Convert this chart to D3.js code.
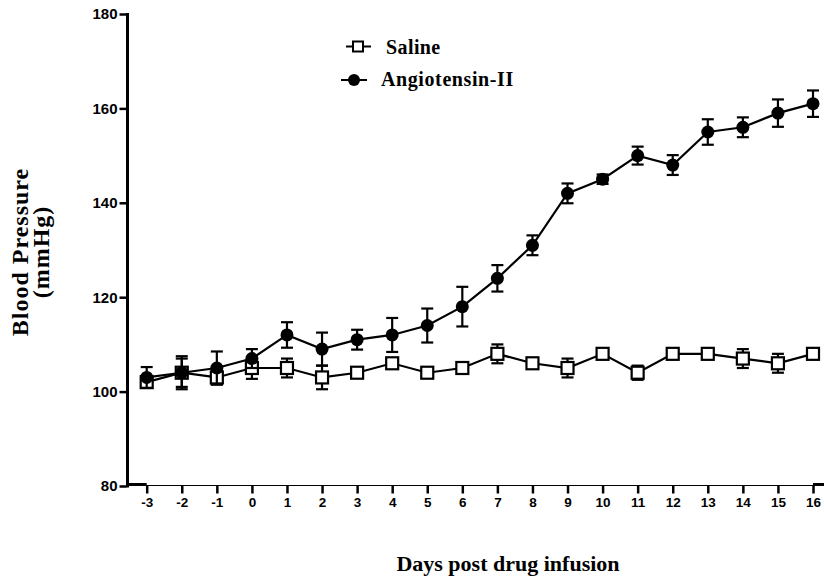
<!DOCTYPE html>
<html>
<head>
<meta charset="utf-8">
<script src="https://cdn.jsdelivr.net/npm/d3@7"></script>
<style>
  body { margin: 0; background: #fff; }
  svg { display: block; }
</style>
</head>
<body>
<div id="chart"></div>
<script>
// 1: DATA
const days = [-3, -2, -1, 0, 1, 2, 3, 4, 5, 6, 7, 8, 9, 10, 11, 12, 13, 14, 15, 16];
const saline = [102, 104, 103, 105, 105, 103, 104, 106, 104, 105, 108, 106, 105, 108, 104, 108, 108, 107, 106, 108];
const salineErr = [1, 3, 1.5, 2.3, 2, 2.5, 1, 1, 1, 1, 2, 1, 2, 1, 1.5, 0.8, 0.8, 2, 2, 0.8];
const angII = [103, 104, 105, 107, 112, 109, 111, 112, 114, 118, 124, 131, 142, 145, 150, 148, 155, 156, 159, 161];
const angIIErr = [2.2, 3.5, 3.5, 2, 2.7, 3.5, 2.1, 3.6, 3.6, 4.2, 2.8, 2.1, 2.1, 1, 1.9, 2.1, 2.7, 2.1, 2.9, 2.8];
const yTicks = [80, 100, 120, 140, 160, 180];

// 2: SETUP
const W = 824, H = 585;
const svg = d3.select("#chart").append("svg")
    .attr("width", W)
    .attr("height", H);

const x = d3.scaleLinear().domain([-3, 16]).range([146.7, 813]);
const y = d3.scaleLinear().domain([80, 180]).range([486, 14]);
const axisX = 127.5;

// 3: AXES
// y axis
svg.append("line")
    .attr("x1", axisX).attr("x2", axisX)
    .attr("y1", y(180) - 1).attr("y2", y(80) + 1.5)
    .attr("stroke", "#000").attr("stroke-width", 3);

svg.append("g")
    .attr("transform", `translate(${axisX - 1},0)`)
    .call(d3.axisLeft(y).tickValues(yTicks).tickSize(7).tickPadding(2).tickFormat(d => String(d)))
    .call(g => g.select(".domain").remove())
    .call(g => g.selectAll(".tick line").attr("stroke", "#000").attr("stroke-width", 2.5))
    .call(g => g.selectAll(".tick text")
        .attr("fill", "#000")
        .style("font-family", "'Liberation Sans', Arial, sans-serif")
        .style("font-weight", "bold")
        .style("font-size", "15px"));

// x axis: thin middle, thick ends
const axisY = y(80) - 0.5;
svg.append("line")
    .attr("x1", axisX).attr("x2", W)
    .attr("y1", axisY).attr("y2", axisY)
    .attr("stroke", "#000").attr("stroke-width", 1.2);
svg.append("line")
    .attr("x1", axisX).attr("x2", x(-3))
    .attr("y1", axisY - 1).attr("y2", axisY - 1)
    .attr("stroke", "#000").attr("stroke-width", 3);
svg.append("line")
    .attr("x1", x(16)).attr("x2", W)
    .attr("y1", axisY - 1).attr("y2", axisY - 1)
    .attr("stroke", "#000").attr("stroke-width", 3);

svg.append("g")
    .attr("transform", `translate(0,${axisY})`)
    .call(d3.axisBottom(x).tickValues(days).tickSize(8).tickPadding(4).tickFormat(d => String(d)))
    .call(g => g.select(".domain").remove())
    .call(g => g.selectAll(".tick line").attr("stroke", "#000").attr("stroke-width", 2.5))
    .call(g => g.selectAll(".tick text")
        .attr("fill", "#000")
        .style("font-family", "'Liberation Sans', Arial, sans-serif")
        .style("font-weight", "bold")
        .style("font-size", "13.5px"));

// 4: SERIES
const line = d3.line()
    .x(d => x(d.day))
    .y(d => y(d.v));

function drawSeries(vals, errs, marker) {
    const data = days.map((d, i) => ({ day: d, v: vals[i], e: errs[i] }));
    const g = svg.append("g");
    const cap = 6;

    // error bars
    const eb = g.selectAll(".eb").data(data).join("g")
        .attr("stroke", "#000").attr("stroke-width", 2.2);
    eb.append("line")
        .attr("x1", d => x(d.day)).attr("x2", d => x(d.day))
        .attr("y1", d => y(d.v - d.e)).attr("y2", d => y(d.v + d.e));
    eb.append("line")
        .attr("x1", d => x(d.day) - cap).attr("x2", d => x(d.day) + cap)
        .attr("y1", d => y(d.v + d.e)).attr("y2", d => y(d.v + d.e));
    eb.append("line")
        .attr("x1", d => x(d.day) - cap).attr("x2", d => x(d.day) + cap)
        .attr("y1", d => y(d.v - d.e)).attr("y2", d => y(d.v - d.e));

    g.append("path")
        .datum(data)
        .attr("fill", "none")
        .attr("stroke", "#000")
        .attr("stroke-width", 2.2)
        .attr("d", line);

    if (marker === "square") {
        g.selectAll(".m").data(data).join("rect")
            .attr("x", d => x(d.day) - 6)
            .attr("y", d => y(d.v) - 6)
            .attr("width", 12).attr("height", 12)
            .attr("fill", "#fff")
            .attr("stroke", "#000")
            .attr("stroke-width", 2.2);
    } else {
        g.selectAll(".m").data(data).join("circle")
            .attr("cx", d => x(d.day))
            .attr("cy", d => y(d.v))
            .attr("r", 6.5)
            .attr("fill", "#000");
    }
}

drawSeries(saline, salineErr, "square");
drawSeries(angII, angIIErr, "circle");

// 5: LEGEND
const serif = "'Liberation Serif', 'Times New Roman', serif";
const leg1 = svg.append("g").attr("transform", "translate(358,46.5)");
leg1.append("line").attr("x1", -12).attr("x2", 13).attr("stroke", "#000").attr("stroke-width", 2);
leg1.append("rect").attr("x", -5).attr("y", -5).attr("width", 10).attr("height", 10)
    .attr("fill", "#fff").attr("stroke", "#000").attr("stroke-width", 2);
leg1.append("text").attr("x", 28).attr("y", 7)
    .style("font-family", serif).style("font-weight", "bold").style("font-size", "20px")
    .style("letter-spacing", "0.4px")
    .text("Saline");

const leg2 = svg.append("g").attr("transform", "translate(354,80)");
leg2.append("line").attr("x1", -13).attr("x2", 13).attr("stroke", "#000").attr("stroke-width", 2);
leg2.append("circle").attr("r", 6).attr("fill", "#000");
leg2.append("text").attr("x", 27).attr("y", 6)
    .style("font-family", serif).style("font-weight", "bold").style("font-size", "20px")
    .style("letter-spacing", "0.6px")
    .text("Angiotensin-II");

// 6: AXIS TITLES
svg.append("text")
    .attr("transform", "translate(28,252) rotate(-90)")
    .attr("text-anchor", "middle")
    .style("font-family", serif).style("font-weight", "bold").style("font-size", "24px")
    .style("letter-spacing", "1px")
    .text("Blood Pressure");
svg.append("text")
    .attr("transform", "translate(49,252) rotate(-90)")
    .attr("text-anchor", "middle")
    .style("font-family", serif).style("font-weight", "bold").style("font-size", "24px")
    .style("letter-spacing", "1px")
    .text("(mmHg)");

svg.append("text")
    .attr("x", 508)
    .attr("y", 571)
    .attr("text-anchor", "middle")
    .style("font-family", serif).style("font-weight", "bold").style("font-size", "22px")
    .text("Days post drug infusion");
</script>
</body>
</html>
